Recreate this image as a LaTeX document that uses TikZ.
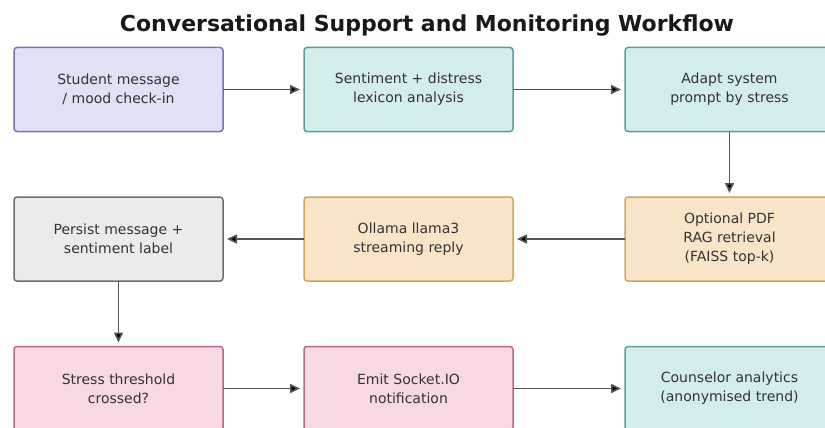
\documentclass[tikz,border=0pt]{standalone}
\usepackage{fontspec}
\setmainfont{DejaVu Sans}
\usetikzlibrary{positioning,arrows.meta}

\definecolor{lavfill}{HTML}{E1E1F5}
\definecolor{lavline}{HTML}{7B72B3}
\definecolor{tealfill}{HTML}{D3ECEC}
\definecolor{tealline}{HTML}{5C9C9E}
\definecolor{orgfill}{HTML}{F8E5C8}
\definecolor{orgline}{HTML}{D2A462}
\definecolor{grayfill}{HTML}{EBEBEB}
\definecolor{grayline}{HTML}{6E6E6E}
\definecolor{pinkfill}{HTML}{F8D8E3}
\definecolor{pinkline}{HTML}{B8668A}
\definecolor{arrowgray}{HTML}{555555}
\definecolor{txtgray}{HTML}{333333}

\begin{document}
\begin{tikzpicture}[x=1pt,y=-1pt,
  box/.style={rectangle,rounded corners=3pt,line width=1.5pt,minimum width=209pt,minimum height=84pt,
    inner sep=0pt,outer sep=0pt,align=center,text=txtgray,font=\fontsize{14}{19}\selectfont},
  inbox/.style={box,fill=lavfill,draw=lavline},
  procbox/.style={box,fill=tealfill,draw=tealline},
  llmbox/.style={box,fill=orgfill,draw=orgline},
  storebox/.style={box,fill=grayfill,draw=grayline},
  alertbox/.style={box,fill=pinkfill,draw=pinkline},
  flow/.style={->,>={Triangle[length=10pt,width=9pt]},line width=1.6pt,draw=arrowgray,shorten >=4pt}]
\useasboundingbox (0,0) rectangle (825,428);
\node[font=\fontsize{22}{26}\selectfont\bfseries,text=black!90] (title) at (427,26) {Conversational Support and Monitoring Workflow};

\node[inbox] (student) at (118.5,89.5) {Student message\\/ mood check-in};
\node[procbox] (sentiment) [right=81pt of student] {Sentiment + distress\\lexicon analysis};
\node[procbox] (adapt) [right=112pt of sentiment] {Adapt system\\prompt by stress};
\node[llmbox] (rag) [below=65.5pt of adapt] {Optional PDF\\RAG retrieval\\(FAISS top-k)};
\node[llmbox] (ollama) [left=112pt of rag] {Ollama llama3\\streaming reply};
\node[storebox] (persist) [left=81pt of ollama] {Persist message +\\sentiment label};
\node[alertbox] (threshold) [below=65.5pt of persist] {Stress threshold\\crossed?};
\node[alertbox] (emit) [right=81pt of threshold] {Emit Socket.IO\\notification};
\node[procbox] (counsel) [right=112pt of emit] {Counselor analytics\\(anonymised trend)};

\path[flow] (student) edge (sentiment)
(sentiment) edge (adapt)
(adapt) edge (rag)
(rag) edge (ollama)
(ollama) edge (persist)
(persist) edge (threshold)
(threshold) edge (emit)
(emit) edge (counsel);
\end{tikzpicture}
\end{document}
